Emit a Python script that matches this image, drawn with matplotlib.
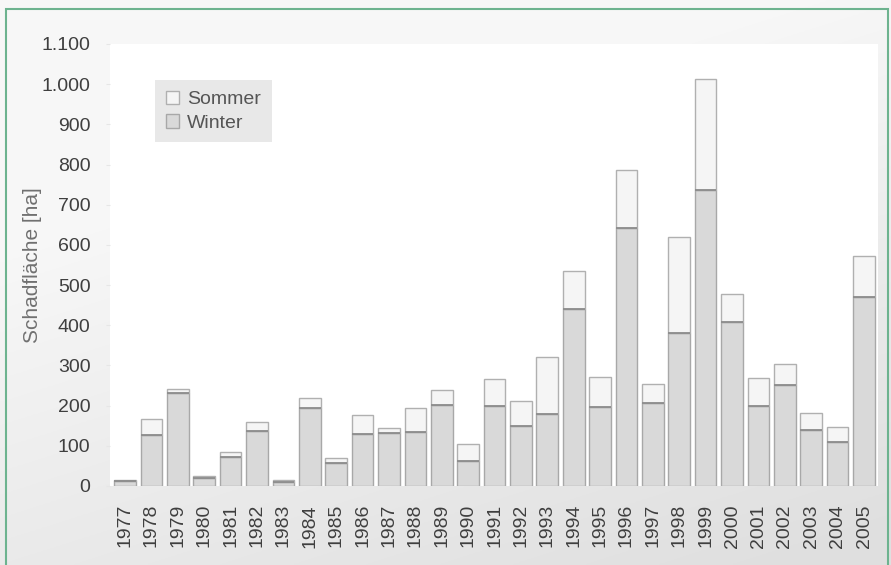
import numpy as np
import matplotlib.pyplot as plt
from matplotlib.patches import Rectangle

plt.rcParams['font.family'] = ['Liberation Sans', 'DejaVu Sans']

# Daten: Schadfläche in ha je Jahr
jahre = [str(j) for j in range(1977, 2006)]
winter = [12, 127, 231, 19, 73, 138, 10, 195, 56, 129, 133, 134, 201,
          62, 199, 150, 178, 440, 197, 643, 207, 380, 736, 407, 200, 252,
          139, 109, 471]
gesamt = [16, 166, 241, 26, 85, 160, 15, 220, 70, 177, 145, 193, 239,
          104, 266, 211, 320, 535, 272, 786, 255, 619, 1013, 479, 270, 303,
          182, 148, 572]
sommer = [g - w for g, w in zip(gesamt, winter)]
y_ticks = [0, 100, 200, 300, 400, 500, 600, 700, 800, 900, 1000, 1100]
y_labels = ['0', '100', '200', '300', '400', '500', '600', '700', '800',
            '900', '1.000', '1.100']

fig = plt.figure(figsize=(8.91, 5.65), dpi=100)

# Hintergrund mit leichtem Verlauf (hell oben links, dunkler unten rechts)
bg = fig.add_axes([0, 0, 1, 1], zorder=-10)
gx, gy = np.meshgrid(np.linspace(0, 1, 300), np.linspace(0, 1, 300))
t = np.clip((gx * 0.5 + gy * 1.0) - 0.45, 0, 1) / 1.05
hell = 0.97 - 0.10 * t
img = np.dstack([hell, hell, hell])
bg.imshow(img, extent=[0, 1, 0, 1], aspect='auto', origin='upper')
bg.set_xlim(0, 1)
bg.set_ylim(0, 1)
bg.axis('off')
bg.add_patch(Rectangle((6 / 891, -0.01), 882 / 891, 1 - 9 / 565 + 0.01,
                       fill=False, edgecolor='#6db38f', linewidth=1.5))

ax = fig.add_axes([110 / 891, 1 - 486 / 565, 768 / 891, 442 / 565])
ax.set_facecolor('white')
x = np.arange(len(jahre))
bw = 0.82
ax.bar(x, winter, bw, color='#d9d9d9', edgecolor='#a8a8a8', linewidth=1.0,
       label='Winter')
ax.bar(x, sommer, bw, bottom=winter, color='#f5f5f5', edgecolor='#b0b0b0',
       linewidth=1.0, label='Sommer')
# Trennlinie zwischen Winter und Sommer etwas dunkler
ax.hlines(winter, x - bw / 2, x + bw / 2, color='#8c8c8c', linewidth=1.3)

ax.set_xlim(-0.57, len(jahre) - 1 + 0.53)
ax.set_ylim(0, 1100)
ax.set_xticks(x)
ax.set_xticklabels(jahre, rotation=90, fontsize=14, color='#3f3f3f')
ax.set_yticks(y_ticks)
ax.set_yticklabels(y_labels, fontsize=14, color='#3f3f3f')
ax.tick_params(axis='y', length=3, color='#e6e6e6', pad=11)
ax.tick_params(axis='x', length=0, pad=13)
for s in ax.spines.values():
    s.set_visible(False)
ax.set_ylabel('Schadfläche [ha]', fontsize=15, color='#707070')
ax.yaxis.set_label_coords(-0.088, 0.5)

h, l = ax.get_legend_handles_labels()
leg = ax.legend(h[::-1], l[::-1], loc='upper left',
                bbox_to_anchor=(45 / 768, (486 - 80) / 442), fontsize=14,
                frameon=True, fancybox=False, facecolor='#e8e8e8',
                edgecolor='none', framealpha=1, handlelength=0.7,
                handleheight=0.7, handletextpad=0.4, borderpad=0.55,
                labelspacing=0.3, borderaxespad=0)
for txt in leg.get_texts():
    txt.set_color('#555555')

fig.savefig('out.png', dpi=100)
